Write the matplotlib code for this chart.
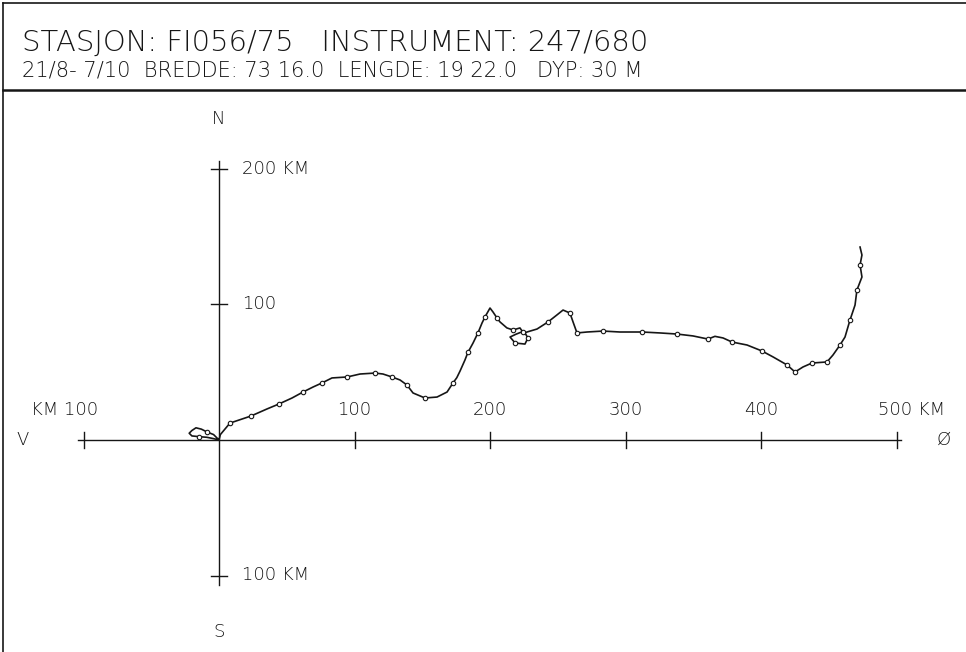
import matplotlib
matplotlib.use("Agg")
import matplotlib.pyplot as plt
from matplotlib.lines import Line2D

# Progressive vector diagram, station FI056/75, instrument 247/680
# Track coordinates in km east (x) and north (y) of the mooring
east_km = [0, -4, -9, -13, -17, -20, -22, -20, -15, -9, -4, 0,
           1, 8.1, 23.6, 35.4, 44.3, 53.9, 62.0, 69.4, 76.0, 83.4, 94.5,
           104.1, 115.1, 121.0, 127.7, 133.6, 138.7, 143.2, 152.0, 160.9,
           168.3, 172.7, 175.5, 177.9, 181.5, 183.8, 185.0, 187.5, 191.1,
           194.1, 196.3, 200.0, 202.2, 205.2, 207.4, 212.5, 217.0, 222.1,
           224.0, 219.0, 214.8, 218.5, 225.8, 228.0, 225.8, 227.3, 234.7,
           242.8, 249.4, 253.9, 259.0, 261.3, 264.2, 271.6, 283.4, 295.9,
           312.2, 325.5, 338.0, 349.8, 360.9, 366.0, 372.0, 378.6, 389.7,
           400.7, 408.9, 419.2, 425.1, 431.0, 437.6, 448.7, 453.1, 458.3,
           462.0, 465.7, 469.4, 470.8, 474.5, 473.1, 474.5, 473.1]
north_km = [0, 4, 6, 8, 9, 7, 5, 3, 2.5, 2, 1, 0,
            4, 12.5, 17.7, 22.9, 26.6, 31.0, 35.4, 39.1, 42.1, 45.8, 46.5,
            48.7, 49.4, 48.7, 46.5, 44.3, 40.6, 34.7, 31.0, 31.7,
            35.4, 42.1, 46.0, 50.9, 59.0, 64.9, 67.0, 71.6, 79.0,
            86.3, 90.8, 97.4, 94.5, 90.0, 87.1, 82.7, 81.2, 82.7,
            80.0, 78.0, 76.0, 71.6, 70.8, 75.3, 79.0, 79.7, 81.9,
            87.1, 92.3, 95.9, 93.7, 87.1, 79.0, 79.7, 80.4, 79.7,
            79.7, 79.0, 78.2, 76.8, 74.5, 76.5, 75.3, 72.3, 70.1,
            65.7, 61.3, 55.4, 50.2, 53.9, 56.8, 57.6, 62.7, 70.1,
            76.0, 88.6, 99.6, 110.7, 120.3, 129.2, 136.5, 142.4]
# Positions carrying a daily mark
daily_marks = [2, 8, 13, 14, 16, 18, 20, 22, 24, 26, 28, 30, 33, 37, 40,
               42, 45, 48, 50, 53, 55, 59, 62, 64, 66, 68, 70, 72, 75, 77,
               79, 80, 82, 83, 85, 87, 89, 91]

x_ticks = [-100, 100, 200, 300, 400, 500]
x_tick_labels = ["KM 100", "100", "200", "300", "400", "500 KM"]
y_ticks = [200, 100, -100]
y_tick_labels = ["200 KM", "100", "100 KM"]

header_1 = "STASJON: FI056/75   INSTRUMENT: 247/680"
header_2 = "21/8- 7/10  BREDDE: 73 16.0  LENGDE: 19 22.0   DYP: 30 M"

W, H = 966, 652
fig = plt.figure(figsize=(W / 100, H / 100), dpi=100)
fig.patch.set_facecolor("white")

ink = "#161616"
font = dict(family="DejaVu Sans", color=ink)

# Frame and header box
fig.add_artist(Line2D([3 / W, 3 / W], [0, 1 - 3 / H], color=ink, lw=1.2,
                      transform=fig.transFigure))
fig.add_artist(Line2D([3 / W, 1], [1 - 3 / H, 1 - 3 / H], color=ink, lw=1.2,
                      transform=fig.transFigure))
fig.add_artist(Line2D([3 / W, 1], [1 - 90 / H, 1 - 90 / H], color=ink, lw=1.8,
                      transform=fig.transFigure))
fig.text(22 / W, 1 - 51 / H, header_1, fontsize=20.9, va="baseline",
         ha="left", fontweight="light", **font)
fig.text(22 / W, 1 - 76 / H, header_2, fontsize=15.1, va="baseline",
         ha="left", fontweight="light", **font)

# Plot area in km with equal scale on both axes
scale = 1.355  # pixels per km
x0, y0 = 219, 440
ax = fig.add_axes([0, 0, 1, 1])
ax.set_xlim(-x0 / scale, (W - x0) / scale)
ax.set_ylim(-(H - y0) / scale, y0 / scale)
ax.axis("off")

# Axes cross
ax.plot([-104, 503], [0, 0], color=ink, lw=1.0)
ax.plot([0, 0], [-107, 206], color=ink, lw=1.0)
tick_half = 6
for xv, lab in zip(x_ticks, x_tick_labels):
    ax.plot([xv, xv], [-tick_half, tick_half], color=ink, lw=1.0)
    if lab.startswith("KM"):
        ax.text(xv - 14, 22, lab, ha="center", va="center", fontsize=13,
                fontweight="light", **font)
    elif lab.endswith("KM"):
        ax.text(xv + 11, 22, lab, ha="center", va="center", fontsize=13,
                fontweight="light", **font)
    else:
        ax.text(xv, 22, lab, ha="center", va="center", fontsize=13,
                fontweight="light", **font)
for yv, lab in zip(y_ticks, y_tick_labels):
    ax.plot([-tick_half, tick_half], [yv, yv], color=ink, lw=1.0)
    ax.text(17, yv, lab, ha="left", va="center", fontsize=13,
            fontweight="light", **font)

for txt, xy in (("N", (0, 237)), ("S", (0, -142)), ("V", (-145, 0)),
                ("Ø", (535, 0))):
    ax.text(*xy, txt, ha="center", va="center", fontsize=13,
            fontweight="light", **font)

# Current track
ax.plot(east_km, north_km, color=ink, lw=1.2, marker="o", markersize=3.2,
        markerfacecolor="white", markeredgecolor=ink, markeredgewidth=0.8,
        markevery=daily_marks)

fig.savefig("out.png", dpi=100, facecolor="white")
